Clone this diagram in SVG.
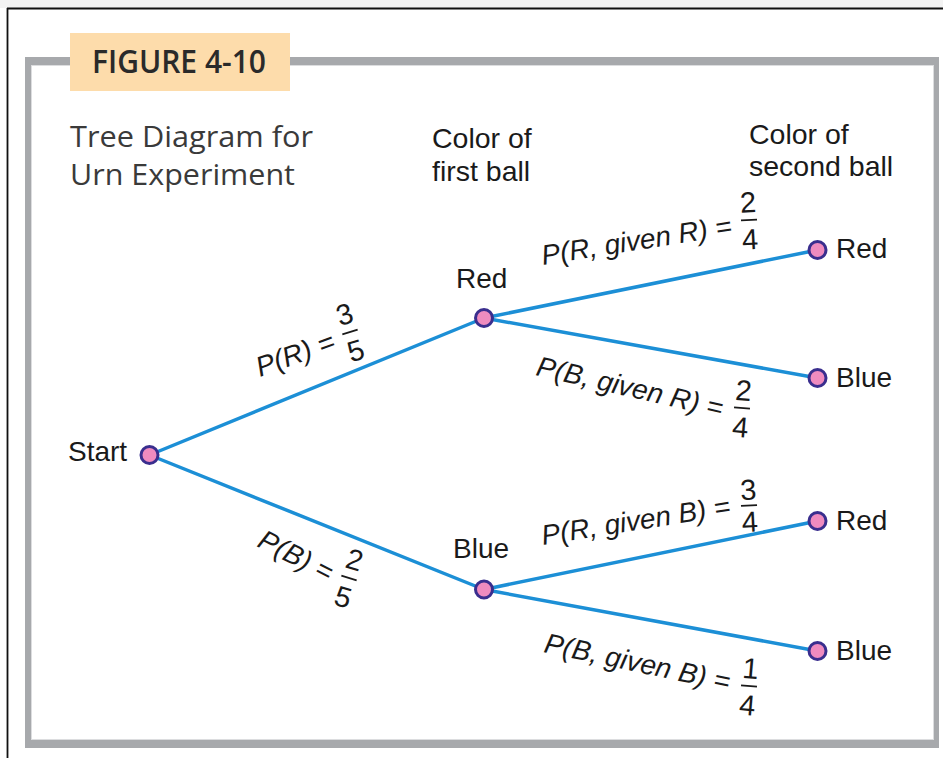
<svg xmlns="http://www.w3.org/2000/svg" width="943" height="758" viewBox="0 0 943 758">
<style>
.frame{fill:#a7a9ac}
.edge{stroke:#1c8fd6;stroke-width:3.5;fill:none;stroke-linecap:round}
.node{fill:#ef8bbf;stroke:#3a2e8e;stroke-width:3}
.lbl{font-family:"Liberation Sans",Arial,sans-serif;font-size:28px;fill:#1a1a1a}
.prob{font-family:"Liberation Sans",Arial,sans-serif;font-size:28px;font-style:italic;fill:#1a1a1a}
.dig{font-family:"Liberation Sans",Arial,sans-serif;font-size:29px;fill:#1a1a1a;text-anchor:middle}
.bar{stroke:#1a1a1a;stroke-width:1.8}
.hdr{font-family:"Liberation Sans",Arial,sans-serif;font-size:28.5px;fill:#1a1a1a}
.ttl{font-family:"Open Sans","Liberation Sans",sans-serif;font-size:30px;fill:#3a3a3a}
</style>
<rect x="0" y="0" width="943" height="758" fill="#ffffff"/>
<rect x="0" y="0" width="943" height="8" fill="#f3f3f3"/>
<line x1="7" y1="8.5" x2="943" y2="8.5" stroke="#111" stroke-width="1.8"/>
<line x1="7.5" y1="8" x2="7.5" y2="758" stroke="#111" stroke-width="1.8"/>
<g id="frame">
<rect class="frame" x="25" y="57" width="914" height="8"/>
<rect class="frame" x="25" y="740" width="914" height="8"/>
<rect class="frame" x="25" y="57" width="6" height="691"/>
<rect class="frame" x="934" y="57" width="5" height="691"/>
<rect x="31.5" y="65.5" width="902" height="674" fill="none" stroke="#dcdddf" stroke-width="1"/>
</g>
<g id="figure-label">
<rect x="70" y="33" width="220" height="58" fill="#fddcab"/>
<text x="92" y="73" font-family="'Open Sans','Liberation Sans',sans-serif" font-weight="600" font-size="33" fill="#2a2a2a" textLength="174" lengthAdjust="spacingAndGlyphs">FIGURE 4-10</text>
</g>
<g id="title">
<text class="ttl" x="70" y="147" textLength="243" lengthAdjust="spacingAndGlyphs">Tree Diagram for</text>
<text class="ttl" x="70" y="185" textLength="225" lengthAdjust="spacingAndGlyphs">Urn Experiment</text>
</g>
<g id="headers">
<text class="hdr" x="432" y="148">Color of</text>
<text class="hdr" x="432" y="181">first ball</text>
<text class="hdr" x="749" y="144">Color of</text>
<text class="hdr" x="749" y="176">second ball</text>
</g>
<g id="connectors">
<line class="edge" x1="149.5" y1="455" x2="484" y2="318"/>
<line class="edge" x1="149.5" y1="455" x2="484" y2="589.5"/>
<line class="edge" x1="484" y1="318" x2="817.5" y2="250"/>
<line class="edge" x1="484" y1="318" x2="817.5" y2="378"/>
<line class="edge" x1="484" y1="589.5" x2="817.5" y2="521"/>
<line class="edge" x1="484" y1="589.5" x2="817.5" y2="651"/>
</g>
<g id="edge-labels">
<g transform="translate(260 377) rotate(-20)"><text class="prob" x="0" y="0">P(R) =</text></g>
<g transform="translate(350 332) rotate(-17)"><text class="dig" x="0" y="-8.6">3</text><line class="bar" x1="-8" y1="0" x2="8" y2="0"/><text class="dig" x="0" y="29.4">5</text></g>
<g transform="translate(256 546) rotate(27)"><text class="prob" x="0" y="0">P(B) =</text></g>
<g transform="translate(349 578) rotate(17)"><text class="dig" x="0" y="-9">2</text><line class="bar" x1="-8" y1="0" x2="8" y2="0"/><text class="dig" x="0" y="30">5</text></g>
<g transform="translate(543 265) rotate(-9)"><text class="prob" x="0" y="0">P(R, given R) =</text></g>
<g transform="translate(749 220) rotate(-3)"><text class="dig" x="0" y="-7.6">2</text><line class="bar" x1="-8" y1="0" x2="8" y2="0"/><text class="dig" x="0" y="29.4">4</text></g>
<g transform="translate(535 375) rotate(13)"><text class="prob" x="0" y="0">P(B, given R) =</text></g>
<g transform="translate(742 408) rotate(5)"><text class="dig" x="0" y="-7.6">2</text><line class="bar" x1="-8" y1="0" x2="8" y2="0"/><text class="dig" x="0" y="29.4">4</text></g>
<g transform="translate(543 545) rotate(-9)"><text class="prob" x="0" y="0">P(R, given B) =</text></g>
<g transform="translate(749 505.5) rotate(-3)"><text class="dig" x="0" y="-5.6">3</text><line class="bar" x1="-8" y1="0" x2="8" y2="0"/><text class="dig" x="0" y="26.4">4</text></g>
<g transform="translate(543 652) rotate(12)"><text class="prob" x="0" y="0">P(B, given B) =</text></g>
<g transform="translate(749 686) rotate(5)"><text class="dig" x="0" y="-7.6">1</text><line class="bar" x1="-8" y1="0" x2="8" y2="0"/><text class="dig" x="0" y="29.4">4</text></g>
</g>
<g id="node-start"><circle class="node" cx="149.5" cy="455" r="8.5"/><text class="lbl" x="68" y="461">Start</text></g>
<g id="node-red1"><circle class="node" cx="484" cy="318" r="8.5"/><text class="lbl" x="456" y="288">Red</text></g>
<g id="node-blue1"><circle class="node" cx="484" cy="589.5" r="8.5"/><text class="lbl" x="453" y="558">Blue</text></g>
<g id="node-red-red"><circle class="node" cx="817.5" cy="250" r="8.5"/><text class="lbl" x="836" y="258">Red</text></g>
<g id="node-red-blue"><circle class="node" cx="817.5" cy="378" r="8.5"/><text class="lbl" x="836" y="387">Blue</text></g>
<g id="node-blue-red"><circle class="node" cx="817.5" cy="521" r="8.5"/><text class="lbl" x="836" y="530">Red</text></g>
<g id="node-blue-blue"><circle class="node" cx="817.5" cy="651" r="8.5"/><text class="lbl" x="836" y="660">Blue</text></g>
</svg>
